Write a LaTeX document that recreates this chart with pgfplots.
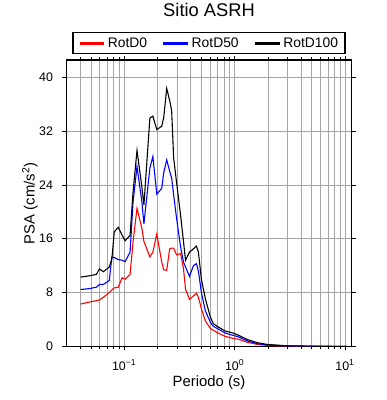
\documentclass[border=0pt]{standalone}
\usepackage{fontspec}
\setmainfont{Liberation Sans}
\usepackage{pgfplots}
\usepackage{pgfplotstable}
\pgfplotsset{compat=1.18}
\pgfplotstableread{
T B U R
0.0403 10.3 8.45 6.3
0.0486 10.5 8.6 6.6
0.0561 10.7 8.8 6.8
0.0597 11.5 9.2 6.9
0.0648 11.1 9.2 7.3
0.0734 11.8 9.8 8.0
0.0775 13.0 13.3 8.4
0.0814 17.0 13.2 8.7
0.0884 17.7 12.9 8.8
0.0960 16.5 12.8 10.2
0.1021 15.7 12.6 10.0
0.1132 16.5 14.0 10.7
0.1204 22.9 21.4 15.5
0.1308 29.1 26.7 20.5
0.1450 23.6 21.4 17.5
0.1511 21.0 18.2 15.6
0.1711 33.9 26.5 13.3
0.1820 34.2 28.2 14.0
0.1977 32.2 22.6 16.7
0.2192 32.7 23.5 12.5
0.2284 34.0 25.8 11.4
0.2430 38.3 27.7 11.3
0.2586 36.5 26.0 14.5
0.2694 35.0 25.0 14.6
0.2808 28.0 22.5 14.6
0.2987 24.3 19.0 13.6
0.3245 19.5 14.8 13.8
0.3452 15.5 12.5 11.5
0.3598 12.8 11.8 8.5
0.3906 14.0 10.4 7.0
0.4244 14.5 12.0 7.5
0.4515 14.9 12.3 7.9
0.4706 14.0 11.2 7.3
0.5007 10.0 8.0 5.6
0.5438 7.1 5.3 3.8
0.6030 4.4 3.6 2.7
0.6414 3.4 3.0 2.4
0.7112 2.9 2.6 2.0
0.8219 2.3 2.0 1.5
0.9694 2.0 1.65 1.2
1.075 1.7 1.45 1.1
1.322 1.0 0.8 0.6
1.625 0.55 0.4 0.3
1.997 0.3 0.22 0.15
3.018 0.1 0.08 0.05
5.609 0.04 0.03 0.02
10.42 0.02 0.015 0.01
}\datatable
\begin{document}
\begin{tikzpicture}
\begin{axis}[
  at={(0,0)}, anchor=south west,
  scale only axis, width=288pt, height=289pt,
  xmode=log, xmin=0.03, xmax=11.5,
  ymin=0, ymax=42.5,
  ytick={0,8,16,24,32,40},
  xtick={0.1,1,10},
  xticklabels={10\textsuperscript{−1},10\textsuperscript{0},10\textsuperscript{1}},
  minor xtick={0.04,0.05,0.06,0.07,0.08,0.09,0.2,0.3,0.4,0.5,0.6,0.7,0.8,0.9,2,3,4,5,6,7,8,9},
  xmajorgrids, xminorgrids, ymajorgrids,
  grid style={gray!70, line width=0.6pt},
  minor grid style={gray!70, line width=0.6pt},
  axis line style={line width=1.5pt},
  tick align=outside,
  major tick length=4pt, minor tick length=3pt,
  tick style={black, line width=0.6pt},
  /pgf/number format/assume math mode=true,
  ticklabel style={font=\fontsize{12.5}{14}\selectfont},
  yticklabel style={xshift=-6pt},
  xticklabel style={yshift=-6pt},
  xlabel={Periodo (s)},
  ylabel={PSA (cm/s\textsuperscript{2})},
  label style={font=\fontsize{15}{17}\selectfont},
  xlabel style={at={(axis description cs:0.5,-0.128)}, anchor=center},
  ylabel style={at={(axis description cs:-0.128,0.5)}, anchor=center},
  title={Sitio ASRH},
  title style={font=\fontsize{18.5}{20}\selectfont, at={(axis description cs:0.5,1)}, anchor=base, yshift=38pt},
  legend columns=3,
  legend style={at={(axis description cs:0.5,1)}, anchor=south, yshift=6pt,
    draw=black, line width=1.3pt, font=\fontsize{14}{16}\selectfont,
    inner xsep=5pt, inner ysep=3pt,
    /tikz/every even column/.append style={column sep=13pt}},
  legend image code/.code={\draw[#1, line width=3pt] (0pt,0pt) -- (25pt,0pt);},
]
\addplot[red, line width=1.1pt] table[x=T, y=R] {\datatable};
\addlegendentry{RotD0}
\addplot[blue, line width=1.1pt] table[x=T, y=U] {\datatable};
\addlegendentry{RotD50}
\addplot[black, line width=1.1pt] table[x=T, y=B] {\datatable};
\addlegendentry{RotD100}
\end{axis}
\path (-67pt,-54pt) rectangle (323pt,346pt);
\end{tikzpicture}
\end{document}
